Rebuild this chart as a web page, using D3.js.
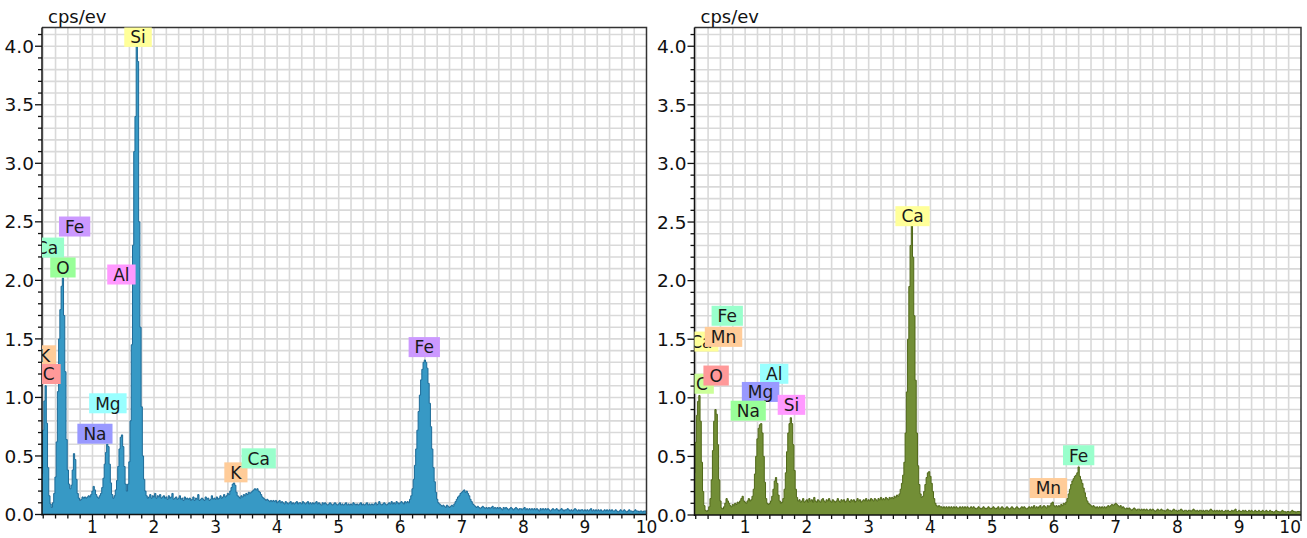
<!DOCTYPE html>
<html>
<head>
<meta charset="utf-8">
<script src="https://cdn.jsdelivr.net/npm/d3@7/dist/d3.min.js"></script>
<style>
  html, body { margin: 0; padding: 0; background: #fff; }
  svg { display: block; }
  text { font-family: "DejaVu Sans", Verdana, sans-serif; }
</style>
</head>
<body>
<svg id="chart" width="1307" height="538"></svg>
<script>
// EDS spectra, counts per second per eV, one value per 20 eV channel starting at 0.18 keV
const energyStart = 0.18;
const energyStep = 0.02;

const spectrumA = [
  0.35,0.72,0.97,1.10,0.78,0.40,0.16,0.09,0.06,0.10,
  0.18,0.32,0.62,1.05,1.50,1.75,1.95,2.02,1.70,1.22,
  0.64,0.38,0.26,0.22,0.25,0.38,0.52,0.47,0.30,0.18,
  0.14,0.12,0.13,0.15,0.14,0.15,0.14,0.15,0.16,0.15,
  0.17,0.20,0.24,0.21,0.17,0.15,0.14,0.16,0.18,0.23,
  0.31,0.43,0.53,0.60,0.58,0.43,0.27,0.17,0.14,0.16,
  0.21,0.29,0.41,0.56,0.66,0.68,0.58,0.41,0.26,0.20,
  0.26,0.45,0.80,1.45,2.30,3.10,3.40,4.00,3.87,2.50,
  1.60,0.92,0.50,0.30,0.20,0.16,0.14,0.15,0.17,0.14,
  0.16,0.15,0.18,0.14,0.16,0.15,0.17,0.14,0.15,0.16,
  0.14,0.15,0.13,0.16,0.14,0.15,0.18,0.13,0.14,0.15,
  0.13,0.14,0.16,0.13,0.14,0.12,0.15,0.13,0.14,0.13,
  0.14,0.12,0.13,0.15,0.12,0.14,0.13,0.17,0.12,0.13,
  0.14,0.13,0.12,0.15,0.13,0.14,0.12,0.13,0.16,0.13,
  0.14,0.13,0.15,0.13,0.14,0.16,0.14,0.15,0.17,0.15,
  0.16,0.18,0.17,0.20,0.23,0.26,0.27,0.25,0.19,0.16,
  0.15,0.14,0.16,0.15,0.17,0.16,0.18,0.17,0.19,0.18,
  0.19,0.20,0.21,0.22,0.21,0.22,0.20,0.19,0.17,0.15,
  0.14,0.13,0.12,0.13,0.12,0.11,0.12,0.11,0.12,0.11,
  0.12,0.10,0.11,0.12,0.10,0.11,0.10,0.09,0.11,0.10,
  0.09,0.10,0.11,0.09,0.10,0.09,0.10,0.11,0.09,0.10,
  0.10,0.09,0.11,0.10,0.09,0.10,0.11,0.09,0.10,0.09,
  0.10,0.09,0.10,0.11,0.09,0.10,0.09,0.08,0.10,0.09,
  0.10,0.09,0.08,0.09,0.10,0.09,0.08,0.09,0.10,0.09,
  0.08,0.09,0.10,0.08,0.09,0.08,0.09,0.10,0.08,0.09,
  0.08,0.09,0.08,0.10,0.09,0.08,0.09,0.08,0.09,0.10,
  0.08,0.09,0.08,0.09,0.10,0.08,0.09,0.08,0.09,0.08,
  0.09,0.10,0.08,0.09,0.11,0.09,0.08,0.09,0.10,0.09,
  0.08,0.09,0.10,0.09,0.11,0.09,0.10,0.09,0.11,0.10,
  0.09,0.10,0.11,0.10,0.09,0.11,0.10,0.11,0.10,0.13,
  0.16,0.22,0.30,0.42,0.56,0.72,0.88,1.02,1.15,1.24,
  1.30,1.32,1.30,1.25,1.12,0.95,0.75,0.56,0.40,0.28,
  0.19,0.13,0.10,0.09,0.08,0.07,0.08,0.07,0.06,0.08,
  0.07,0.06,0.07,0.08,0.07,0.09,0.11,0.13,0.15,0.16,
  0.18,0.19,0.20,0.21,0.19,0.20,0.18,0.16,0.13,0.11,
  0.09,0.08,0.07,0.06,0.07,0.06,0.05,0.06,0.07,0.06,
  0.05,0.06,0.05,0.06,0.05,0.06,0.07,0.05,0.06,0.05,
  0.06,0.05,0.06,0.05,0.04,0.06,0.05,0.06,0.05,0.04,
  0.05,0.06,0.05,0.04,0.05,0.06,0.05,0.04,0.05,0.05,
  0.04,0.05,0.06,0.04,0.05,0.04,0.05,0.04,0.05,0.04,
  0.05,0.04,0.05,0.04,0.03,0.05,0.04,0.05,0.04,0.05,
  0.04,0.05,0.04,0.03,0.04,0.05,0.04,0.04,0.05,0.04,
  0.03,0.04,0.05,0.04,0.03,0.04,0.04,0.05,0.04,0.03,
  0.04,0.03,0.04,0.05,0.04,0.03,0.04,0.03,0.04,0.04,
  0.03,0.04,0.03,0.04,0.03,0.04,0.05,0.03,0.04,0.03,
  0.04,0.03,0.04,0.03,0.04,0.03,0.03,0.04,0.03,0.04,
  0.03,0.04,0.03,0.04,0.03,0.03,0.04,0.03,0.02,0.03,
  0.04,0.03,0.03,0.04,0.03,0.02,0.03,0.04,0.03,0.03,
  0.02,0.03,0.04,0.03,0.03,0.02,0.03,0.03,0.02,0.03,
  0.03,0.03
];

const spectrumB = [
  0.36,0.62,0.85,0.97,1.02,0.80,0.45,0.20,0.08,0.04,
  0.03,0.04,0.07,0.14,0.30,0.55,0.80,0.90,0.86,0.60,
  0.30,0.12,0.06,0.05,0.07,0.10,0.14,0.12,0.10,0.08,
  0.07,0.09,0.08,0.10,0.09,0.11,0.10,0.12,0.14,0.16,
  0.12,0.11,0.10,0.12,0.14,0.12,0.13,0.16,0.22,0.35,
  0.50,0.65,0.74,0.77,0.78,0.70,0.50,0.28,0.14,0.10,
  0.09,0.10,0.12,0.16,0.22,0.29,0.32,0.27,0.17,0.12,
  0.10,0.11,0.14,0.22,0.36,0.54,0.70,0.78,0.83,0.78,
  0.60,0.38,0.22,0.15,0.12,0.13,0.11,0.12,0.14,0.11,
  0.12,0.13,0.11,0.14,0.12,0.13,0.11,0.15,0.12,0.11,
  0.13,0.12,0.11,0.13,0.14,0.12,0.11,0.13,0.12,0.14,
  0.12,0.11,0.13,0.12,0.11,0.12,0.14,0.12,0.11,0.13,
  0.12,0.13,0.11,0.12,0.14,0.12,0.11,0.13,0.12,0.13,
  0.11,0.12,0.14,0.12,0.13,0.11,0.12,0.13,0.12,0.14,
  0.12,0.13,0.12,0.14,0.13,0.12,0.14,0.13,0.12,0.14,
  0.13,0.15,0.13,0.14,0.13,0.15,0.14,0.13,0.15,0.14,
  0.15,0.14,0.16,0.15,0.17,0.16,0.18,0.22,0.27,0.34,
  0.45,0.70,1.05,1.50,1.95,2.30,2.47,2.20,1.70,1.15,
  0.70,0.42,0.26,0.18,0.15,0.16,0.20,0.26,0.32,0.36,
  0.37,0.33,0.27,0.20,0.14,0.10,0.08,0.07,0.08,0.07,
  0.07,0.06,0.07,0.06,0.07,0.06,0.07,0.06,0.07,0.06,
  0.07,0.06,0.07,0.06,0.06,0.07,0.06,0.07,0.06,0.07,
  0.06,0.07,0.06,0.06,0.07,0.06,0.07,0.06,0.05,0.06,
  0.07,0.06,0.05,0.06,0.07,0.06,0.05,0.06,0.07,0.06,
  0.05,0.06,0.07,0.06,0.05,0.06,0.07,0.05,0.06,0.07,
  0.06,0.05,0.06,0.07,0.06,0.05,0.06,0.07,0.06,0.05,
  0.06,0.07,0.06,0.05,0.06,0.07,0.06,0.07,0.06,0.05,
  0.06,0.07,0.06,0.07,0.06,0.08,0.06,0.07,0.06,0.07,
  0.08,0.06,0.07,0.08,0.07,0.06,0.08,0.07,0.08,0.10,
  0.11,0.08,0.07,0.08,0.07,0.08,0.07,0.09,0.08,0.10,
  0.09,0.11,0.14,0.18,0.22,0.26,0.29,0.31,0.33,0.34,
  0.36,0.41,0.33,0.30,0.27,0.23,0.19,0.15,0.12,0.10,
  0.09,0.08,0.07,0.08,0.07,0.06,0.07,0.06,0.07,0.06,
  0.07,0.06,0.07,0.06,0.07,0.08,0.07,0.08,0.09,0.08,
  0.09,0.10,0.09,0.08,0.07,0.08,0.06,0.07,0.06,0.05,
  0.06,0.05,0.06,0.05,0.04,0.05,0.06,0.05,0.04,0.05,
  0.05,0.04,0.05,0.04,0.05,0.04,0.05,0.04,0.04,0.05,
  0.04,0.05,0.04,0.03,0.04,0.05,0.04,0.04,0.05,0.04,
  0.04,0.03,0.04,0.05,0.04,0.04,0.03,0.04,0.05,0.04,
  0.04,0.03,0.04,0.04,0.05,0.04,0.03,0.04,0.04,0.03,
  0.04,0.04,0.03,0.04,0.05,0.04,0.03,0.04,0.03,0.04,
  0.04,0.03,0.04,0.03,0.04,0.04,0.03,0.04,0.05,0.04,
  0.03,0.04,0.03,0.04,0.03,0.04,0.03,0.04,0.03,0.03,
  0.04,0.03,0.04,0.03,0.03,0.04,0.03,0.04,0.05,0.03,
  0.03,0.04,0.03,0.03,0.04,0.03,0.04,0.03,0.03,0.04,
  0.03,0.04,0.03,0.03,0.04,0.03,0.03,0.04,0.03,0.03,
  0.04,0.03,0.03,0.04,0.03,0.03,0.04,0.03,0.03,0.02,
  0.03,0.04,0.03,0.03,0.02,0.03,0.04,0.03,0.03,0.02,
  0.03,0.03,0.02,0.03,0.04,0.03,0.03,0.02,0.03,0.03,
  0.03,0.03
];

// Element line markers: element, energy (keV), level (cps/ev) of the tag centre
const elementsA = ["Si","Fe","Ca","O","Al","K","C","Mg","Na","K","Ca","Fe"];
const tagEnergyA = [1.74,0.71,0.26,0.52,1.47,0.22,0.29,1.25,1.04,3.33,3.70,6.39];
const tagLevelA  = [4.08,2.46,2.28,2.11,2.05,1.36,1.20,0.95,0.69,0.36,0.48,1.43];
const tagColorA  = ["#ffff99","#cc99ff","#99ffcc","#99ff99","#ff99ff","#ffcc99","#ff9999","#99ffff","#9999ff","#ffcc99","#99ffcc","#cc99ff"];

const elementsB = ["Ca","C","O","Ca","Mn","Fe","Al","Mg","Si","Na","Mn","Fe"];
const tagEnergyB = [3.71,0.30,0.53,0.29,0.65,0.71,1.47,1.25,1.75,1.05,5.91,6.40];
const tagLevelB  = [2.55,1.12,1.19,1.48,1.52,1.70,1.205,1.05,0.94,0.89,0.23,0.51];
const tagColorB  = ["#ffff99","#ccff99","#ff9999","#ffff99","#ffcc99","#99ffcc","#99ffff","#9999ff","#ff99ff","#99ff99","#ffcc99","#99ffcc"];

const yTickLabels = ["0.0","0.5","1.0","1.5","2.0","2.5","3.0","3.5","4.0"];
const xTickLabels = ["1","2","3","4","5","6","7","8","9","10"];
const unitLabel = "cps/ev";

const svg = d3.select("#chart");
const svgWidth = 1307;

function drawPanel(id, left, right, top, bottom, spectrum, fill, edge, names, energies, levels, colors) {
  const x = d3.scaleLinear().domain([0.18, 10]).range([left, right]);
  const y = d3.scaleLinear().domain([0, 4.16]).range([bottom, top]);
  const g = svg.append("g");

  g.append("clipPath").attr("id", "clip-" + id)
    .append("rect").attr("x", left).attr("y", top).attr("width", right - left).attr("height", bottom - top);

  // grid: 0.2 keV vertical, 0.1 cps/ev horizontal
  const grid = g.append("g").attr("stroke", "#d9d9d9").attr("stroke-width", 1.6);
  const xs = d3.range(1, 50).map(i => +(i * 0.2).toFixed(2)).filter(v => v > 0.18 && v < 10);
  grid.selectAll("line.v").data(xs).join("line")
    .attr("x1", d => x(d)).attr("x2", d => x(d)).attr("y1", top).attr("y2", bottom);
  const ys = d3.range(1, 42).map(i => i / 10);
  grid.selectAll("line.h").data(ys).join("line")
    .attr("x1", left).attr("x2", right).attr("y1", d => y(d)).attr("y2", d => y(d));

  const pts = spectrum.map((v, i) => [energyStart + energyStep * i, v]).filter(p => p[0] <= 10.0001);
  const area = d3.area().curve(d3.curveStep).x(d => x(d[0])).y0(y(0)).y1(d => y(d[1]));
  const line = d3.line().curve(d3.curveStep).x(d => x(d[0])).y(d => y(d[1]));
  const plot = g.append("g").attr("clip-path", "url(#clip-" + id + ")");
  plot.append("path").datum(pts).attr("d", area).attr("fill", fill);
  plot.append("path").datum(pts).attr("d", line).attr("fill", "none").attr("stroke", edge).attr("stroke-width", 1);

  // frame
  g.append("path")
    .attr("d", `M${left},${top}H${right}V${bottom}`)
    .attr("fill", "none").attr("stroke", "#333").attr("stroke-width", 1.5);

  // y axis
  const yAxis = g.append("g").attr("transform", `translate(${left},0)`);
  yAxis.append("line").attr("x1", 0).attr("x2", 0).attr("y1", top).attr("y2", bottom + 1)
    .attr("stroke", "#111").attr("stroke-width", 1.5);
  yAxis.selectAll("line.minor").data(d3.range(0, 42)).join("line")
    .attr("x1", d => d % 5 === 0 ? -7 : -4).attr("x2", 0)
    .attr("y1", d => y(d / 10)).attr("y2", d => y(d / 10))
    .attr("stroke", "#111").attr("stroke-width", 1.3);
  yAxis.selectAll("text").data(yTickLabels).join("text")
    .attr("x", -8).attr("y", d => y(+d)).attr("dy", "0.36em")
    .attr("text-anchor", "end").attr("font-size", "18.5px").attr("fill", "#111")
    .text(d => d);

  // x axis
  const xAxis = g.append("g").attr("transform", `translate(0,${bottom})`);
  xAxis.append("line").attr("x1", left).attr("x2", right).attr("y1", 0).attr("y2", 0)
    .attr("stroke", "#111").attr("stroke-width", 1.5);
  const xt = d3.range(1, 51).map(i => +(i * 0.2).toFixed(2)).filter(v => v > 0.18);
  xAxis.selectAll("line.tick").data(xt).join("line")
    .attr("x1", d => x(d)).attr("x2", d => x(d))
    .attr("y1", 0).attr("y2", d => Math.abs(d - Math.round(d)) < 1e-6 ? 6 : 4)
    .attr("stroke", "#111").attr("stroke-width", 1.3);
  xAxis.selectAll("text").data(xTickLabels).join("text")
    .attr("x", d => x(+d)).attr("y", 18)
    .attr("text-anchor", d => x(+d) + 12 > svgWidth ? "end" : "middle")
    .attr("font-size", "17px").attr("fill", "#111")
    .text(d => d);

  g.append("text").attr("x", left + 6).attr("y", 23)
    .attr("font-size", "18px").attr("fill", "#111").text(unitLabel);

  // element tags
  const tags = g.append("g").attr("clip-path", "url(#clip-" + id + ")");
  names.forEach((name, i) => {
    const cx = x(energies[i]), cy = y(levels[i]);
    const t = tags.append("g").attr("transform", `translate(${cx},${cy})`);
    const txt = t.append("text").attr("text-anchor", "middle").attr("dy", "0.37em")
      .attr("font-size", "17px").attr("fill", "#1a1a1a").text(name);
    const w = txt.node().getComputedTextLength() + 12;
    t.insert("rect", "text").attr("x", -w / 2).attr("y", -10).attr("width", w).attr("height", 20)
      .attr("fill", colors[i]);
  });
}

drawPanel("a", 42, 646.5, 27.5, 514.5, spectrumA, "#3799c5", "#1d6b98",
  elementsA, tagEnergyA, tagLevelA, tagColorA);
drawPanel("b", 694.5, 1301, 27.5, 515, spectrumB, "#728e36", "#506819",
  elementsB, tagEnergyB, tagLevelB, tagColorB);
</script>
</body>
</html>
